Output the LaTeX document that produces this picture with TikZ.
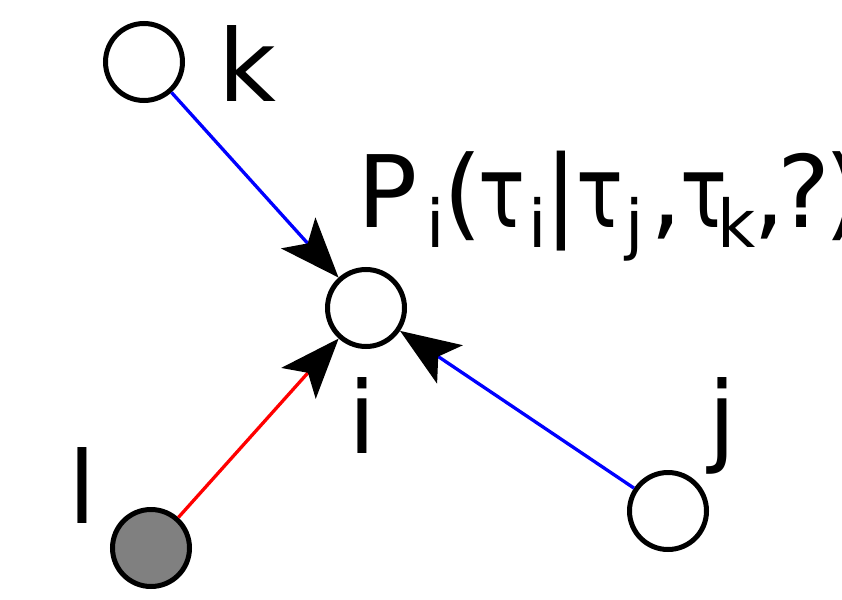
\documentclass[tikz,border=0pt]{standalone}
\usepackage{fontspec}
\usepackage{graphicx}
\setmainfont{DejaVu Sans}
\usetikzlibrary{arrows.meta}
\newcommand{\mysub}[2]{\makebox[#1pt][l]{\raisebox{-20pt}{\fontsize{66}{70}\selectfont #2}}}
\newcommand{\myg}[2]{\makebox[#1pt][l]{#2}}
\newcommand{\mytau}[1]{\makebox[#1pt][l]{\scalebox{0.78}[1]{τ}}}
\begin{document}
\begin{tikzpicture}[x=1pt,y=-1pt,
  vertex/.style={circle,draw=black,line width=5pt,minimum size=77pt,inner sep=0pt,fill=white},
  lbl/.style={inner sep=0pt,anchor=base west,font=\fontsize{100}{120}\selectfont},
  conn/.style={line width=3.3pt,-{Stealth[length=60pt,width=46pt,inset=14pt,color=black]}}]
\useasboundingbox (0,0) rectangle (842,599);
\node[vertex] (k) at (144,62) {};
\node[vertex] (i) at (366,308) {};
\node[vertex] (j) at (668,511) {};
\node[vertex,fill={rgb,255:red,128;green,128;blue,128}] (l) at (151,548) {};
\draw[conn,blue] (k) -- (i);
\draw[conn,blue] (j) -- (i);
\draw[conn,red] (l) -- (i);
\node[lbl] (kl) at (218,102) {k};
\node[lbl] (il) at (348,453) {i};
\node[lbl] (jl) at (708,453) {j};
\node[lbl] (ll) at (68,523) {l};
\node[lbl] (pl) at (357,227) {\myg{69}{P}\mysub{17}{i}\myg{35}{(}\mytau{50}\mysub{16}{i}\myg{32}{|}\mytau{49}\mysub{25}{j}\myg{30}{,}\mytau{37}\mysub{36}{k}\myg{24}{,}\myg{47}{?})};
\end{tikzpicture}
\end{document}
